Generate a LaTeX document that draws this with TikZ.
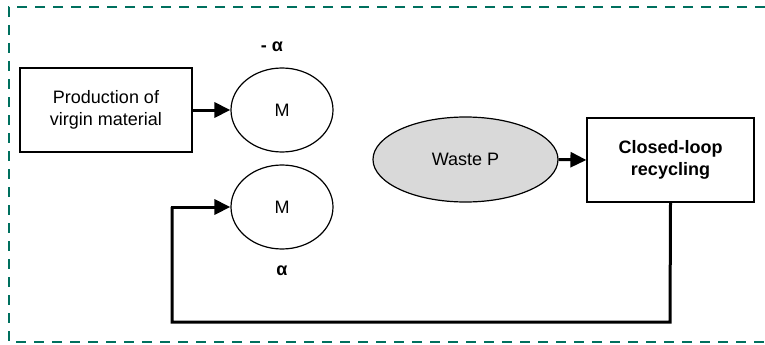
\documentclass[tikz,border=0pt]{standalone}
\usepackage{fontspec}
\setmainfont{Liberation Sans}
\usetikzlibrary{shapes.geometric,arrows.meta}
\definecolor{frameteal}{RGB}{0,112,94}
\definecolor{wastegray}{RGB}{217,217,217}
\tikzset{
  x=1pt, y=-1pt,
  txt/.style={font=\fontsize{18}{21.6}\selectfont, align=center, inner sep=0pt},
  procbox/.style={draw, line width=1.2pt, minimum width=172pt, minimum height=84pt, txt},
  flowell/.style={draw, ellipse, line width=1.2pt, minimum width=102pt, minimum height=84pt, txt},
  flow/.style={line width=3pt, -{Triangle[length=16pt,width=15pt]}},
  loopline/.style={line width=3pt},
  frame/.style={draw=frameteal, line width=2.7pt, dash pattern=on 10pt off 8pt}
}
\begin{document}
\begin{tikzpicture}
\useasboundingbox (0,0) rectangle (765,345);
% system boundary (open on the right)
\draw[frame] (765,7) -- (9,7) -- (9,342) -- (765,342);

% nodes
\node[procbox] (prod) at (106,110) {Production of\\virgin material};
\node[flowell] (m1) at (282,110) {M};
\node[flowell] (m2) at (282,207) {M};
\node[flowell, fill=wastegray, minimum width=185pt, minimum height=85pt] (waste) at (465.5,159.5) {Waste P};
\node[procbox, minimum width=167pt, minimum height=84pt, font=\fontsize{18}{21.6}\selectfont\bfseries] (clr) at (670.5,160) {Closed-loop\\recycling};

% labels
\node[txt, font=\fontsize{18}{21.6}\selectfont\bfseries] (lminus) at (272,47) {- α};
\node[txt, font=\fontsize{18}{21.6}\selectfont\bfseries] (lplus) at (282,271) {α};

% flows
\draw[flow] (prod.east) -- (m1.west);
\draw[flow] (waste.east) -- (clr.west);
\coordinate (c1) at (670,322);
\coordinate (c2) at (172,322);
\coordinate (c3) at (172,207);
\draw[loopline] (clr.south) -- (c1) -- (c2) -- (c3);
\draw[flow] ([xshift=-1.5pt]c3) -- (m2.west);
\end{tikzpicture}
\end{document}
